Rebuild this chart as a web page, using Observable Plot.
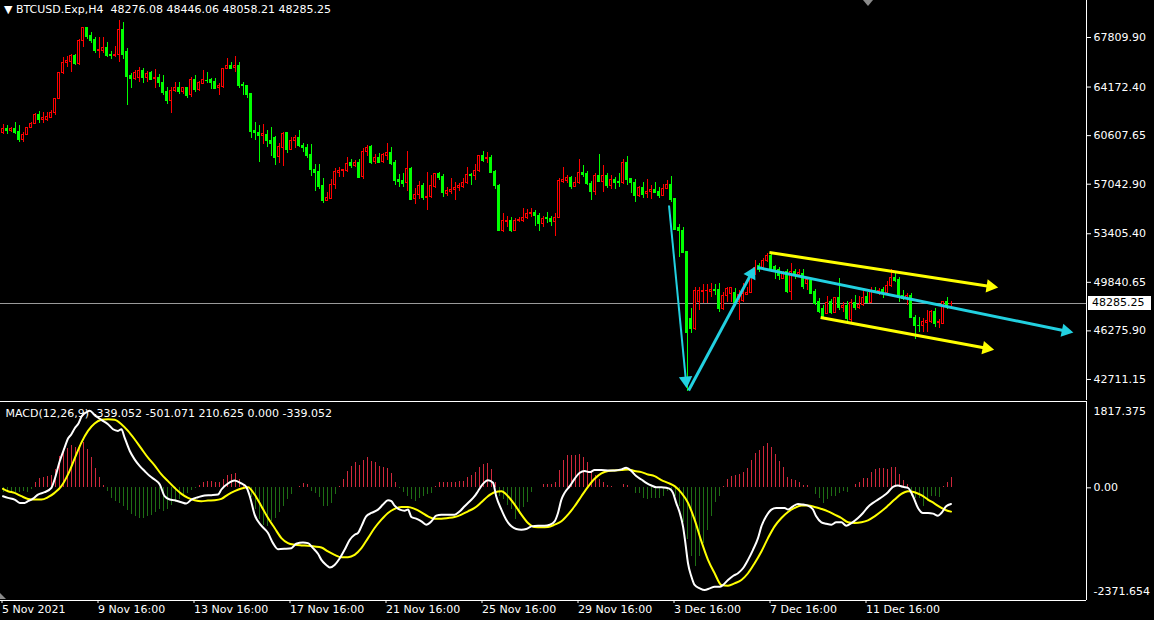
<!DOCTYPE html>
<html><head><meta charset="utf-8">
<script src="https://cdn.jsdelivr.net/npm/d3@7"></script>
<script src="https://cdn.jsdelivr.net/npm/@observablehq/plot@0.6"></script>
<style>
html,body{margin:0;padding:0;background:#000;}
#chart{position:relative;width:1154px;height:620px;background:#000;overflow:hidden;font-family:"DejaVu Sans",sans-serif;font-size:11px;color:#fff;}
#chart svg{display:block;}
.hdr{position:absolute;left:4px;top:3px;white-space:pre;line-height:14px;}
.pbox{position:absolute;left:1088px;width:63px;height:14px;background:#fff;color:#000;line-height:14px;padding-left:4px;box-sizing:border-box;}
.tri{position:absolute;width:0;height:0;}
</style></head><body>
<div id="chart"></div>
<script>
// ---- BTCUSD H4 candles (bar 0 = 5 Nov 2021 16:00, 4h per bar) ----
const open=[60815,61109,60933,61109,60859,60272,60690,61182,61476,62136,
61740,61791,61938,62283,63311,65219,65924,65997,66416,65850,
67590,68522,67884,67663,66834,66834,67003,66562,66438,66562,
68375,66731,64970,64779,64801,65315,64823,65190,64779,64874,
64485,63795,63135,63847,64140,63795,64089,63605,64727,63942,
64412,64654,64676,64529,64118,64162,65513,65755,65557,65755,
64338,64287,63627,60911,60815,60617,60690,60250,60397,59025,
59714,60786,59589,60177,60397,59883,59714,59222,58099,57923,
56874,55846,55971,57020,57850,58026,57997,58584,58342,58635,
57556,59391,59758,58657,58980,58657,59149,59369,58635,57365,
57263,57116,58173,55971,56265,56947,56044,56088,56822,57806,
57556,56338,56455,56632,56749,56822,57145,57754,57608,57997,
59076,58856,58951,57923,56947,53644,54253,54378,53644,54305,
54327,54547,54840,54965,54745,54136,54576,54503,54253,54547,
57240,57314,57512,56822,57145,57901,57806,57072,56455,57608,
57240,57659,56896,57387,57189,57145,58613,57439,57167,56213,
56778,56308,56455,56632,56485,56213,56705,57020,55971,53842,
53644,52051,47163,46429,48381,49115,49167,49115,49313,49291,
47897,48873,48998,49042,48381,48506,48946,49042,50466,51075,
50833,51442,51809,50950,50760,50098,50584,49115,50584,50393,
50466,49681,49922,49115,48381,47897,47530,48381,47574,48704,
47971,48066,47090,48308,47971,48190,48748,48308,49240,49167,
49291,49071,49555,50173,50025,48873,48704,48873,47236,46671,
46620,46869,46913,47648,46869,46796,48381,48276.08];
const high=[61402,61351,61204,61549,61351,60815,61226,61593,62254,62379,
62327,62327,62452,63355,65263,66320,66394,66540,66540,67641,
68566,68566,68155,67832,67832,67788,67465,66783,67150,69058,
68933,66981,65146,65388,65608,65513,65315,65315,65461,65116,
65021,64162,64118,64485,64485,64162,64162,64874,65021,64581,
65388,65263,64779,64823,64412,65557,66247,65953,66416,65953,
64485,64287,63627,61593,61351,61402,60984,61226,60544,60052,
60859,60859,60448,60617,60984,60008,59934,59956,58488,58488,
57483,56455,57365,58173,58290,58099,59025,58833,58782,58833,
59641,59883,59883,59222,59318,59318,60008,59714,58782,57754,
57806,59443,58246,56705,57240,57072,57923,57681,57850,57879,
57754,56778,57439,57145,57072,57439,58268,57850,58511,59149,
59443,59347,59149,58048,56999,54869,54672,54620,54503,54576,
55237,55185,55237,55112,54869,54694,54987,54672,54914,57439,
58246,57681,57608,57512,58833,58415,57997,57263,57806,59222,
58415,57806,57681,57556,57806,58833,59076,57439,57365,56874,
57145,57365,56925,57189,56778,56999,57314,57608,55971,54085,
53842,52102,47897,49482,49482,49658,49658,49732,49658,49732,
49115,49482,49482,49365,49240,49732,49482,50584,51442,51244,
51566,51934,51882,51075,50950,50657,50760,51199,50760,50760,
50760,50216,50025,49291,48631,48139,48800,48557,48748,50099,
48381,48455,48557,48873,48800,49291,49115,49438,49438,49365,
49482,49922,50760,50466,50173,49240,49042,49042,47405,47236,
47163,47772,47772,47897,47090,48455,48704,48446.06];
const low=[60712,60712,60815,60668,60125,60081,60617,61109,61424,61476,
61476,61645,61887,62085,63259,65116,65630,65219,65755,65755,
67098,67663,67348,66614,66247,66614,66364,66196,66342,65953,
66173,62819,64089,64654,64507,64412,64529,64632,64045,64140,
63553,62870,62254,63751,63605,63605,63355,63428,63795,63869,
64338,64412,63993,63971,63553,64045,65461,65461,65263,64089,
63553,63311,60419,60250,58613,59934,59758,59098,58415,58584,
58364,59318,59516,59641,59714,59391,58906,57630,56507,56632,
55604,55773,55898,56632,57556,57512,57923,58173,58246,57439,
57365,59076,58511,58488,58562,58584,58782,58415,56947,56822,
56822,56529,55846,55530,55919,55846,55112,55971,56749,57314,
56088,56162,56265,55846,56507,56705,57020,56947,57314,57879,
58657,58540,57806,56632,53600,53475,53886,53475,53571,54209,
54209,54451,54620,53960,53571,53886,54136,53938,53203,54503,
57116,57116,56632,56778,56999,57556,56947,55846,56213,57150,
56455,56705,56632,56632,56822,56999,56947,56382,55721,56088,
56015,56015,55919,56382,56015,56162,56632,55721,53644,51640,
51934,41827,46062,46304,47772,48264,48308,48748,48873,47648,
47772,48381,48381,48264,47038,48381,48873,48998,50341,50584,
50708,51317,50584,50025,49974,50025,49042,48506,50025,50173,
49291,49240,48960,48139,47530,47185,47456,47478,47530,47772,
47648,46796,46723,47772,47824,48088,48264,48264,48998,48873,
48631,48998,49482,49849,48381,48506,48139,47163,45622,46180,
46180,46180,46840,46546,46429,46745,47824,48058.21];
const close=[61109,60933,61109,60786,60272,60690,61182,61476,62136,61740,
61938,61960,62305,63311,65219,65953,66071,66416,65850,67590,
68522,67832,67590,66805,66878,67003,66489,66438,66562,68375,
66562,64896,64779,65219,65388,64823,65146,64727,64823,64434,
63722,63113,63920,64118,63795,64067,63553,64727,63942,64434,
64676,64581,64434,64045,64287,65513,65755,65513,65755,64287,
64236,63605,60859,60764,60544,60712,60177,60008,58929,59758,
60742,59589,60250,60397,59832,59685,59149,58099,57850,56822,
55846,55993,57020,57923,58048,58070,58540,58364,58635,57512,
59391,59714,58613,58980,58613,59222,59369,58540,57314,57189,
57072,58173,55919,56265,56947,56015,56088,56896,57806,57483,
56382,56507,56653,56800,56896,57145,57732,57630,58026,59076,
58782,58951,57850,56947,53644,54305,54378,53644,54305,54400,
54576,54869,54965,54694,54136,54503,54503,54253,54576,57314,
57387,57512,56822,57167,57879,57754,57072,56455,57608,57189,
57630,56896,57365,57116,57145,58613,57387,57116,56213,56778,
56265,56485,56632,56433,56213,56705,56999,55919,53695,53592,
51978,46157,46429,49240,49240,49240,49240,49313,49240,47897,
48873,49365,49438,48308,48946,48998,49071,50466,50877,50760,
51442,51736,50708,50584,50341,50466,49115,50584,50341,50540,
49482,50025,48998,48264,47648,47280,48308,47574,48704,47941,
48066,47163,48308,47971,48212,48704,48308,49240,49167,49240,
48998,49607,50173,49974,48800,48631,48873,47236,46620,46620,
46913,46965,47648,46796,46913,48381,48139,48285.25];
const lastPrice=48285.25;

// ---- price-scale tick labels ----
const priceTicks=[67809.90,64172.40,60607.65,57042.90,53405.40,49840.65,46275.90,42711.15];

// ---- time labels (bar index -> text) ----
const labelBars=[0,24,48,72,96,120,144,168,192,216];
const labelText=["5 Nov 2021","9 Nov 16:00","13 Nov 16:00","17 Nov 16:00","21 Nov 16:00","25 Nov 16:00","29 Nov 16:00","3 Dec 16:00","7 Dec 16:00","11 Dec 16:00"];

// ---- drawn trend lines / arrows (bar index, price) ----
const trendKind=["drop","rebound","channel mid","channel top","channel bottom"];
const trendStartBar=[166.5,171.4,188.6,191.6,204.4];
const trendStartPrice=[55480,41900,50930,52030,47260];
const trendEndBar=[170.9,187.9,267.4,248.6,247.6];
const trendEndPrice=[42120,50930,46160,49460,44910];

// ---- MACD(12,26,9) ----
const macdBar=[0,1.25,2.9,4.2,5.4,6.25,7.5,8.75,10.4,12.1,12.9,14.2,15.4,16.25,17.1,17.9,18.9,19.75,20.8,21.7,22.9,24.6,26.25,27.5,28.75,29.6,30.4,31.7,32.9,34.2,35.4,36.7,37.9,39.2,40.4,41.7,42.9,44.6,45.8,47.1,48.75,50.4,52.1,53.75,54.6,56.25,57.9,59.6,60.8,61.7,62.9,64.6,66.25,67.5,68.75,70.4,72.1,73.3,75,76.25,77.5,78.75,79.6,80.8,81.7,82.9,84.2,85.4,86.7,87.9,88.75,89.6,90.8,92.1,93.75,95,96.25,97.1,97.9,99.2,100.4,101.25,102.1,103.3,104.6,105.8,107.1,108.3,109.6,111.25,112.9,114.2,115.4,116.7,117.9,118.75,120,121.25,122.5,123.3,124.6,125.8,127.1,128.3,129.6,130.8,132.1,133.75,135.4,136.7,137.9,138.75,139.6,140.4,141.7,142.9,144.2,145.4,146.7,147.9,149.6,151.25,152.9,154.6,155.8,157.1,158.3,159.6,160.8,162.1,163.3,164.6,165.8,166.7,167.5,168.3,169.2,170,170.6,171.25,172.1,172.9,174.2,175.4,176.7,177.9,179.2,180,181.25,182.5,183.75,185,186.25,187.5,188.75,189.6,190.8,192.1,193.3,194.6,195.4,196.25,197.5,198.75,200,201.25,202.5,203.3,204.6,205.8,207.1,208.3,209.6,210.8,212.1,213.75,215,216.25,217.5,218.75,220,221.25,222.5,223.75,225,226.25,227.5,228.75,230,231.25,232.5,233.75,234.6,235.8,237];
const macdVal=[-176,-212,-247,-317,-317,-282,-226,-141,-92,0,176,564,846,1037,1128,1248,1361,1516,1587,1622,1531,1432,1340,1234,1199,1234,1058,776,600,458,353,247,176,71,-176,-247,-261,-303,-331,-247,-197,-162,-155,-141,-35,92,155,92,21,-176,-564,-797,-952,-1164,-1291,-1284,-1270,-1178,-1150,-1164,-1270,-1389,-1516,-1622,-1679,-1622,-1481,-1305,-1093,-987,-952,-811,-600,-529,-458,-353,-261,-282,-374,-458,-480,-458,-614,-649,-705,-776,-705,-585,-564,-564,-564,-494,-388,-282,-176,-71,85,162,106,-176,-458,-670,-811,-868,-882,-868,-811,-797,-797,-776,-705,-529,-247,-106,35,190,317,353,331,374,374,367,367,388,423,353,247,176,106,49,14,14,0,-21,-106,-317,-529,-811,-1164,-1587,-1869,-2045,-2116,-2151,-2116,-2081,-2081,-2045,-1940,-1855,-1798,-1693,-1516,-1305,-1058,-811,-600,-458,-423,-423,-423,-458,-388,-339,-353,-374,-458,-600,-726,-755,-776,-726,-726,-797,-741,-635,-529,-402,-317,-247,-176,-92,21,49,21,0,-176,-423,-529,-529,-543,-585,-529,-388,-339.052];
const signalBar=[0,1.25,2.9,4.6,6.25,7.9,9.6,11.25,12.9,14.6,16.25,17.9,19.6,21.25,22.9,24.6,26.25,27.9,29.6,31.25,32.9,34.6,36.25,37.9,39.6,41.25,42.9,44.6,46.25,47.9,49.6,51.25,52.9,54.6,56.25,57.9,59.6,61.25,62.9,64.6,66.25,67.9,69.6,71.25,72.9,74.6,76.25,77.9,79.6,81.25,82.9,84.6,86.25,87.9,89.6,91.25,92.9,94.6,96.25,97.9,99.6,101.25,102.9,104.6,106.25,107.9,109.6,111.25,112.9,114.6,116.25,117.9,119.6,121.25,122.9,124.6,126.25,127.9,129.6,131.25,132.9,134.6,136.25,137.9,139.6,141.25,142.9,144.6,146.25,147.9,149.6,151.25,152.9,154.6,156.25,157.9,159.6,161.25,162.9,164.6,166.25,167.9,169.6,171.25,172.9,174.6,176.25,177.9,179.6,181.25,182.9,184.6,186.25,187.9,189.6,191.25,192.9,194.6,196.25,197.9,199.6,201.25,202.9,204.6,206.25,207.9,209.6,211.25,212.9,214.6,216.25,217.9,219.6,221.25,222.9,224.6,226.25,227.9,229.6,231.25,232.9,234.6,235.8,237];
const signalVal=[-21,-71,-106,-176,-233,-247,-247,-197,-106,35,282,614,952,1199,1354,1432,1446,1432,1340,1199,1023,825,635,473,282,141,0,-127,-212,-261,-282,-268,-261,-233,-141,-71,-14,14,-141,-388,-635,-846,-1058,-1164,-1199,-1213,-1220,-1234,-1255,-1340,-1411,-1460,-1460,-1411,-1270,-1058,-846,-670,-529,-444,-402,-402,-444,-515,-600,-649,-649,-635,-614,-564,-494,-423,-303,-176,-92,-71,-176,-353,-564,-741,-825,-832,-825,-776,-705,-564,-388,-176,21,190,303,353,367,374,388,353,331,282,247,162,106,35,-106,-317,-670,-1128,-1516,-1798,-2045,-2059,-2010,-1940,-1798,-1587,-1340,-1058,-811,-635,-508,-423,-374,-374,-402,-444,-494,-564,-635,-726,-741,-726,-684,-600,-494,-374,-247,-127,-71,-92,-155,-247,-331,-423,-472,-501.071];
const histVal=[-106,-106,-92,-106,-92,-78,-92,-30,120,190,
226,247,261,388,670,776,825,895,846,895,
952,811,635,402,212,49,-70,-233,-282,-331,
-388,-479,-564,-599,-635,-635,-599,-585,-529,-458,
-494,-458,-374,-317,-247,-176,-120,-49,-21,49,
106,141,134,120,106,176,261,282,303,176,
71,-49,-212,-458,-670,-797,-811,-705,-656,-529,
-388,-247,-141,0,35,92,71,-70,-120,-212,
-402,-402,-331,-141,21,176,352,458,543,479,
578,634,557,529,458,437,402,303,120,-14,
-92,-176,-247,-282,-233,-176,-141,-120,21,120,
120,120,120,120,141,141,212,261,317,423,
494,515,388,106,-176,-247,-374,-458,-670,-564,
-423,-303,-106,0,10,71,71,71,120,374,
585,684,684,684,705,635,529,331,261,176,
120,49,21,0,0,71,49,0,-127,-127,
-226,-247,-233,-226,-226,-176,-70,-70,-176,-388,
-740,-1093,-1445,-1657,-1445,-1163,-895,-599,-317,-176,
21,176,233,261,282,331,402,578,726,790,
867,938,846,705,550,423,212,176,155,106,
49,49,0,-141,-233,-331,-247,-176,-176,-127,
-70,-92,0,71,106,190,197,317,388,402,
402,388,423,423,282,162,71,-176,-226,-233,
-402,-282,-176,-176,-212,20,106,210.625];
const macdMax=1817.375, macdMin=-2371.654;

// ---------------- build ----------------
const W=1154, MAIN_H=400, RIGHT=68;
const xDomain=[-0.625,270.875];
const yDomain=[41166,70526];
const BULL="#ff0000", BEAR="#00ff00";
const CYAN="#22d0e0", YEL="#ffff00";
const kindColor={"drop":CYAN,"rebound":CYAN,"channel mid":CYAN,"channel top":YEL,"channel bottom":YEL};
const kindWidth={"drop":2,"rebound":3,"channel mid":3,"channel top":3,"channel bottom":3};
const candles=close.map((c,i)=>({i,o:open[i],h:high[i],l:low[i],c}));
const col=d=>d.c>=d.o?BULL:BEAR;

// scales used to orient the filled arrowheads
const sx=Plot.scale({x:{domain:xDomain,range:[0,W-RIGHT]}});
const sy=Plot.scale({y:{domain:yDomain,range:[MAIN_H,0]}});
const trend=trendKind.map((kind,k)=>{
  const px1=sx.apply(trendStartBar[k]), py1=sy.apply(trendStartPrice[k]);
  const px2=sx.apply(trendEndBar[k]), py2=sy.apply(trendEndPrice[k]);
  const ang=Math.atan2(py2-py1,px2-px1);
  const back=7;
  return {kind,x1:trendStartBar[k],y1:trendStartPrice[k],x2:trendEndBar[k],y2:trendEndPrice[k],
    hx:sx.invert(px2-back*Math.cos(ang)),hy:sy.invert(py2-back*Math.sin(ang)),
    rot:ang*180/Math.PI+90,color:kindColor[kind],w:kindWidth[kind]};
});
const hist=histVal.map((v,i)=>({i,v}));
const macd=macdBar.map((b,k)=>({b,v:macdVal[k]}));
const sig=signalBar.map((b,k)=>({b,v:signalVal[k]}));
const baseStyle={background:"#000",color:"#fff",fontFamily:"DejaVu Sans, sans-serif",fontSize:"11px",overflow:"visible"};

const main=Plot.plot({
  width:W,height:MAIN_H,marginLeft:0,marginRight:RIGHT,marginTop:0,marginBottom:0,
  style:baseStyle,
  x:{domain:xDomain,axis:null},
  y:{domain:yDomain,axis:null},
  marks:[
    Plot.ruleY([lastPrice],{stroke:"#9a9a9a",strokeWidth:1,shapeRendering:"crispEdges"}),
    Plot.ruleX(candles,{x:"i",y1:"l",y2:"h",stroke:col,strokeWidth:1,shapeRendering:"crispEdges"}),
    Plot.rect(candles,{x1:d=>d.i-0.25,x2:d=>d.i+0.25,y1:"o",y2:"c",fill:d=>d.c>=d.o?"#000000":BEAR,stroke:col,strokeWidth:1,shapeRendering:"crispEdges"}),
    Plot.link(trend,{x1:"x1",y1:"y1",x2:"hx",y2:"hy",stroke:"color",strokeWidth:"w"}),
    Plot.dot(trend,{x:"hx",y:"hy",symbol:"triangle",r:5,fill:"color",stroke:"none",rotate:"rot"}),
    Plot.axisY({anchor:"right",ticks:priceTicks,tickFormat:d=>d.toFixed(2),tickSize:4,tickPadding:3,label:null,color:"#fff"}),
    Plot.ruleX([xDomain[1]],{stroke:"#fff",shapeRendering:"crispEdges"})
  ]
});

const sub=Plot.plot({
  width:W,height:220,marginLeft:0,marginRight:RIGHT,marginTop:1,marginBottom:20,
  style:baseStyle,
  x:{domain:xDomain,axis:null},
  y:{domain:[macdMin,macdMax],axis:null},
  marks:[
    Plot.ruleX(hist,{x:"i",y1:0,y2:"v",stroke:d=>d.v>=0?"#d0283c":"#1e6e14",strokeWidth:1,shapeRendering:"crispEdges"}),
    Plot.line(sig,{x:"b",y:"v",stroke:YEL,strokeWidth:2,curve:"monotone-x"}),
    Plot.line(macd,{x:"b",y:"v",stroke:"#ffffff",strokeWidth:2,curve:"monotone-x"}),
    Plot.ruleY([macdMax,macdMin],{stroke:"#fff",shapeRendering:"crispEdges"}),
    Plot.ruleX([xDomain[1]],{stroke:"#fff",shapeRendering:"crispEdges"}),
    Plot.axisX({anchor:"bottom",ticks:labelBars,tickFormat:d=>labelText[labelBars.indexOf(d)],tickSize:3,tickPadding:2,textAnchor:"start",dx:-1,label:null,color:"#fff"}),
    Plot.axisY({anchor:"right",ticks:[0],tickFormat:()=>"0.00",tickSize:4,tickPadding:3,label:null,color:"#fff"}),
    Plot.text([macdMax.toFixed(3)],{text:d=>d,frameAnchor:"top-right",textAnchor:"start",dx:7,dy:6,fill:"#fff"}),
    Plot.text([macdMin.toFixed(3)],{text:d=>d,frameAnchor:"bottom-right",textAnchor:"start",dx:7,dy:-6,fill:"#fff"}),
    Plot.text([`MACD(12,26,9) ${macdVal[macdVal.length-1].toFixed(3)} ${signalVal[signalVal.length-1].toFixed(3)} ${histVal[histVal.length-1].toFixed(3)} 0.000 ${macdVal[macdVal.length-1].toFixed(3)}`],{text:d=>d,frameAnchor:"top-left",textAnchor:"start",dx:5,dy:8,fill:"#fff"})
  ]
});

const root=document.getElementById("chart");
root.appendChild(main);
root.appendChild(sub);

const hdr=document.createElement("div");
hdr.className="hdr";
const n=close.length-1;
hdr.textContent=`\u25BC BTCUSD.Exp,H4  ${open[n].toFixed(2)} ${high[n].toFixed(2)} ${low[n].toFixed(2)} ${close[n].toFixed(2)}`;
root.appendChild(hdr);

const py=main.scale("y").apply(lastPrice);
const box=document.createElement("div");
box.className="pbox";
box.style.top=(py-7)+"px";
box.textContent=lastPrice.toFixed(2);
root.appendChild(box);

const t1=document.createElement("div");
t1.className="tri";
t1.style.cssText+="left:863px;top:0px;border-left:5px solid transparent;border-right:5px solid transparent;border-top:6px solid #8a8a8a;";
root.appendChild(t1);
const t2=document.createElement("div");
t2.className="tri";
t2.style.cssText+="left:0px;top:593px;border-bottom:6px solid #8a8a8a;border-right:6px solid transparent;";
root.appendChild(t2);
</script>
</body></html>
